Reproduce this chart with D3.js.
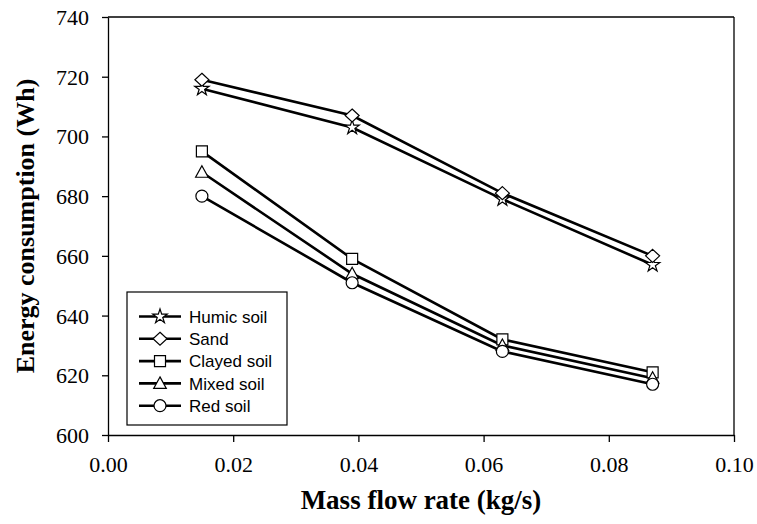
<!DOCTYPE html>
<html>
<head>
<meta charset="utf-8">
<script src="https://cdn.jsdelivr.net/npm/d3@7"></script>
<style>
  body { margin: 0; background: #fff; }
  svg { display: block; }
</style>
</head>
<body>
<div id="chart"></div>
<script>
// data
var flowRates = [0.015, 0.039, 0.063, 0.087];
var seriesNames = ["Humic soil", "Sand", "Clayed soil", "Mixed soil", "Red soil"];
var humic = [716, 703, 679, 657];
var sand = [719, 707, 681, 660];
var clayed = [695, 659, 632, 621];
var mixed = [688, 654, 630, 619];
var red = [680, 651, 628, 617];
var xTicks = [0, 0.02, 0.04, 0.06, 0.08, 0.10];
var yTicks = [600, 620, 640, 660, 680, 700, 720, 740];

var seriesValues = [humic, sand, clayed, mixed, red];
var markerTypes = ["star", "diamond", "square", "triangle", "circle"];

// set the dimensions and margins of the graph
var margin = { top: 17, right: 23, bottom: 89, left: 108 },
    width = 757 - margin.left - margin.right,
    height = 524 - margin.top - margin.bottom;

var svg = d3.select("#chart")
    .append("svg")
    .attr("width", 757)
    .attr("height", 524)
    .append("g")
    .attr("transform", "translate(" + margin.left + "," + margin.top + ")");

var x = d3.scaleLinear().domain([0, 0.10]).range([0, width]);
var y = d3.scaleLinear().domain([600, 740]).range([height, 0]);

// X axis
var xAxis = svg.append("g")
    .attr("transform", "translate(0," + height + ")")
    .call(d3.axisBottom(x).tickValues(xTicks).tickFormat(d3.format(".2f")).tickSize(7).tickSizeOuter(0).tickPadding(14));

// Y axis
var yAxis = svg.append("g")
    .call(d3.axisLeft(y).tickValues(yTicks).tickFormat(d3.format("d")).tickSize(6).tickSizeOuter(0).tickPadding(13));

[xAxis, yAxis].forEach(function (a) {
    a.selectAll("path").attr("stroke", "#000").attr("stroke-width", 1.3);
    a.selectAll("line").attr("stroke", "#000").attr("stroke-width", 1.3);
    a.selectAll("text")
        .style("font-family", "'Liberation Serif', 'Times New Roman', serif")
        .style("font-size", "22px")
        .attr("fill", "#000");
});
yAxis.selectAll("text").attr("dy", "0.34em");

// frame top and right
svg.append("line").attr("x1", 0).attr("x2", width).attr("y1", 0).attr("y2", 0)
    .attr("stroke", "#000").attr("stroke-width", 1.3);
svg.append("line").attr("x1", width).attr("x2", width).attr("y1", 0).attr("y2", height)
    .attr("stroke", "#000").attr("stroke-width", 1.3);

// marker shapes
function markerPath(type) {
    if (type === "star") {
        return d3.symbol().type(d3.symbolStar).size(64)();
    }
    if (type === "diamond") {
        return "M0,-6.5L7,0L0,6.5L-7,0Z";
    }
    if (type === "square") {
        return "M-5.5,-5.5H5.5V5.5H-5.5Z";
    }
    if (type === "triangle") {
        return "M0,-6.5L6.3,5L-6.3,5Z";
    }
    return d3.symbol().type(d3.symbolCircle).size(Math.PI * 36)();
}

var line = d3.line()
    .x(function (d, i) { return x(flowRates[i]); })
    .y(function (d) { return y(d); });

// Lines
svg.selectAll("myline")
    .data(seriesValues)
    .enter()
    .append("path")
    .attr("d", function (d) { return line(d); })
    .attr("fill", "none")
    .attr("stroke", "#000")
    .attr("stroke-width", 2.6);

// Markers
seriesValues.forEach(function (vals, s) {
    svg.selectAll("mymarker" + s)
        .data(vals)
        .enter()
        .append("path")
        .attr("d", markerPath(markerTypes[s]))
        .attr("transform", function (d, i) { return "translate(" + x(flowRates[i]) + "," + y(d) + ")"; })
        .attr("fill", "#fff")
        .attr("stroke", "#000")
        .attr("stroke-width", 1.2);
});

// Legend
var legend = svg.append("g")
    .attr("transform", "translate(" + (127 - margin.left) + "," + (292 - margin.top) + ")");
legend.append("rect")
    .attr("width", 160)
    .attr("height", 133)
    .attr("fill", "#fff")
    .attr("stroke", "#000")
    .attr("stroke-width", 1.2);

seriesNames.forEach(function (name, i) {
    var ly = 24.5 + i * 22.3;
    legend.append("line")
        .attr("x1", 12).attr("x2", 54)
        .attr("y1", ly).attr("y2", ly)
        .attr("stroke", "#000").attr("stroke-width", 2.6);
    legend.append("path")
        .attr("d", markerPath(markerTypes[i]))
        .attr("transform", "translate(33," + ly + ")")
        .attr("fill", "#fff")
        .attr("stroke", "#000")
        .attr("stroke-width", 1.2);
    legend.append("text")
        .attr("x", 62)
        .attr("y", ly)
        .attr("dy", "0.36em")
        .style("font-family", "'Liberation Sans', Arial, sans-serif")
        .style("font-size", "17px")
        .text(name);
});

// Axis titles
svg.append("text")
    .attr("x", width / 2)
    .attr("y", height + 74)
    .attr("text-anchor", "middle")
    .style("font-family", "'Liberation Serif', 'Times New Roman', serif")
    .style("font-weight", "bold")
    .style("font-size", "27px")
    .text("Mass flow rate (kg/s)");

svg.append("text")
    .attr("transform", "translate(" + (34 - margin.left) + "," + (height / 2) + ") rotate(-90)")
    .attr("text-anchor", "middle")
    .style("font-family", "'Liberation Serif', 'Times New Roman', serif")
    .style("font-weight", "bold")
    .style("font-size", "26px")
    .text("Energy consumption (Wh)");
</script>
</body>
</html>
